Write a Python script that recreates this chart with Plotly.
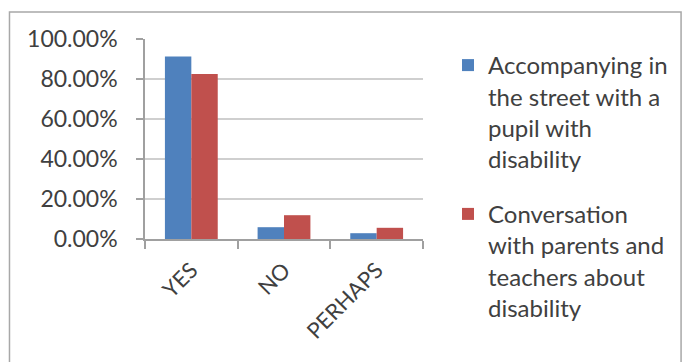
import plotly.graph_objects as go

# Survey answers per category
categories = ["YES", "NO", "PERHAPS"]
series_names = [
    "Accompanying in<br>the street with a<br>pupil with<br>disability",
    "Conversation<br>with parents and<br>teachers about<br>disability",
]
accompanying = [0.912, 0.059, 0.029]
conversation = [0.825, 0.119, 0.056]
y_ticks = [0.0, 0.2, 0.4, 0.6, 0.8, 1.0]
y_tick_labels = ["0.00%", "20.00%", "40.00%", "60.00%", "80.00%", "100.00%"]

colors = ["#4F81BD", "#C0504D"]
font_family = "Lato"
text_color = "#404040"

W, H = 684, 362
L, R, T, B = 145, 260, 39, 123
plot_w = W - L - R
plot_h = H - T - B

fig = go.Figure()
for name, vals, col, grp in zip(series_names, [accompanying, conversation], colors, ["a", "b"]):
    fig.add_trace(go.Bar(
        x=categories, y=vals, name=name, marker_color=col,
        marker_line_width=0, legendgroup=grp,
    ))

# outer chart frame, expressed in plot-area paper units
def px_to_paper_x(px):
    return (px - L) / plot_w

def px_to_paper_y(py):
    return (H - B - py) / plot_h

fig.add_shape(
    type="rect", xref="paper", yref="paper",
    x0=px_to_paper_x(9), x1=px_to_paper_x(683),
    y0=px_to_paper_y(375), y1=px_to_paper_y(12),
    line=dict(color="#a8a8a8", width=1.5), fillcolor="rgba(0,0,0,0)",
    layer="below",
)

fig.update_layout(
    width=W, height=H,
    margin=dict(l=L, r=R, t=T, b=B, pad=0),
    paper_bgcolor="white", plot_bgcolor="white",
    barmode="group", bargap=0.43, bargroupgap=0,
    font=dict(family=font_family, color=text_color, size=23),
    showlegend=True,
    legend=dict(
        x=px_to_paper_x(448), xanchor="left",
        y=px_to_paper_y(43), yanchor="top",
        font=dict(size=24, family=font_family, color=text_color),
        valign="top", tracegroupgap=21, traceorder="grouped",
        bgcolor="rgba(0,0,0,0)", maxheight=1000, itemwidth=30,
    ),
    xaxis=dict(
        type="category", tickangle=-45, tickson="boundaries",
        ticks="outside", ticklen=8, tickcolor="#a0a0a0", tickwidth=1.5,
        ticklabelstandoff=8,
        showline=True, linecolor="#a0a0a0", linewidth=1.5,
        showgrid=False, tickfont=dict(size=22),
    ),
    yaxis=dict(
        range=[0, 1], tickvals=y_ticks, ticktext=y_tick_labels,
        ticks="outside", ticklen=7, tickcolor="#a0a0a0", tickwidth=1.5,
        ticklabelstandoff=14,
        showline=True, linecolor="#a0a0a0", linewidth=1.5,
        showgrid=True, gridcolor="#cfcfcf", gridwidth=1.5,
        zeroline=False, tickfont=dict(size=23),
    ),
)

fig.write_html("out.html")
